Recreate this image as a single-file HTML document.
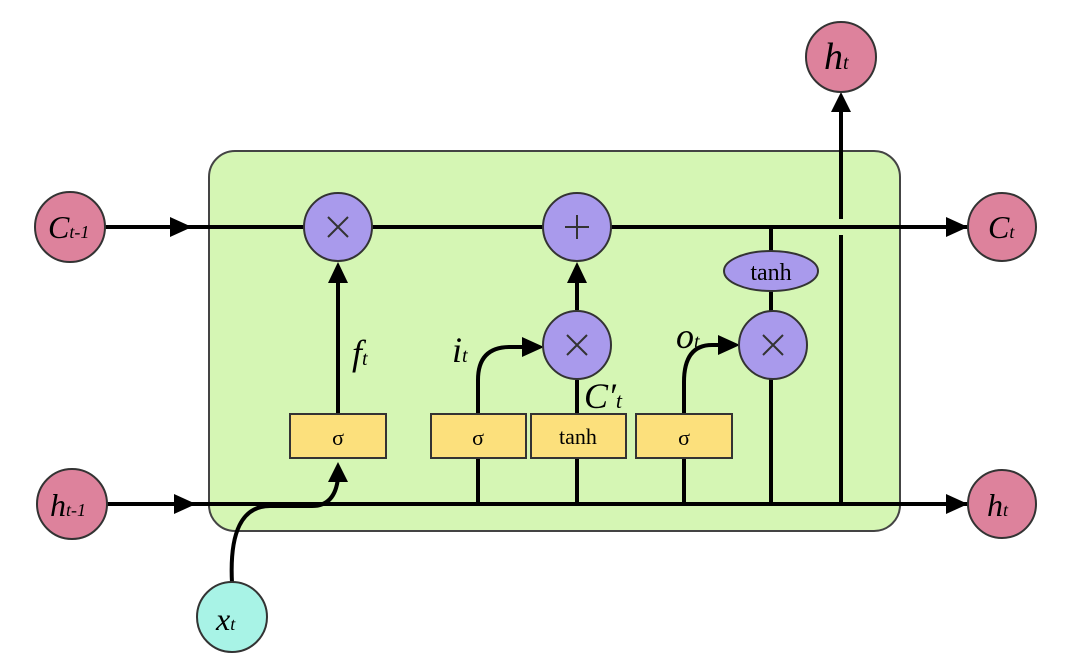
<!DOCTYPE html>
<html><head><meta charset="utf-8"><style>html,body{margin:0;padding:0;background:#fff}svg{display:block}</style></head>
<body>
<svg width="1080" height="669" viewBox="0 0 1080 669" xmlns="http://www.w3.org/2000/svg" font-family="'Liberation Serif', serif">
<defs>
<marker id="a" markerWidth="10" markerHeight="10" refX="8" refY="5" orient="auto" markerUnits="userSpaceOnUse">
<path d="M0,0 L10,5 L0,10 z" fill="#000" transform="scale(2.2) translate(-4.5,-2.7)"/>
</marker>
</defs>
<style>.ln{stroke:#000;stroke-width:4;fill:none}.c{stroke:#333;stroke-width:2}</style>
<rect x="209" y="151" width="691" height="380" rx="26" fill="#d5f6b4" stroke="#444" stroke-width="2"/>
<!-- top line -->
<line class="ln" x1="105" y1="227" x2="968" y2="227"/>
<path d="M170,217 L192,227 L170,237z"/><path d="M946,217 L968,227 L946,237z"/>
<!-- bottom line -->
<line class="ln" x1="105" y1="504" x2="968" y2="504"/>
<path d="M174,494 L196,504 L174,514z"/><path d="M946,494 L968,504 L946,514z"/>
<!-- vertical ht -->
<line class="ln" x1="841" y1="504" x2="841" y2="235"/>
<line class="ln" x1="841" y1="219" x2="841" y2="110"/>
<path d="M831,112 L841,92 L851,112z"/>
<!-- f_t -->
<line class="ln" x1="338" y1="414" x2="338" y2="280"/>
<path d="M328,283 L338,262 L348,283z"/>
<!-- + from mid × -->
<line class="ln" x1="577" y1="310" x2="577" y2="280"/>
<path d="M567,283 L577,262 L587,283z"/>
<!-- verticals from bottom -->
<line class="ln" x1="478" y1="504" x2="478" y2="458"/>
<line class="ln" x1="577" y1="504" x2="577" y2="380"/>
<line class="ln" x1="684" y1="504" x2="684" y2="458"/>
<line class="ln" x1="771" y1="504" x2="771" y2="227"/>
<!-- curves -->
<path class="ln" d="M478,414 L478,380 Q478,347 510,347 L528,347"/>
<path d="M522,337 L544,347 L522,357z"/>
<path class="ln" d="M684,414 L684,382 Q684,345 712,345 L724,345"/>
<path d="M718,335 L740,345 L718,355z"/>
<path class="ln" d="M232,583 Q228,506 270,506 L312,506 Q335,506 338,478"/>
<path d="M328,482 L338,462 L348,482z"/>
<!-- gates -->
<g class="c" fill="#a99aec">
<circle cx="338" cy="227" r="34"/><circle cx="577" cy="227" r="34"/>
<circle cx="577" cy="345" r="34"/><circle cx="773" cy="345" r="34"/>
<ellipse cx="771" cy="271" rx="47" ry="20"/>
</g>
<g stroke="#333" stroke-width="2">
<path d="M328,217 l20,20 M348,217 l-20,20"/><path d="M567,335 l20,20 M587,335 l-20,20"/><path d="M763,335 l20,20 M783,335 l-20,20"/>
<path d="M565,227 h24 M577,215 v24"/>
</g>
<text x="771" y="280" font-size="24" text-anchor="middle">tanh</text>
<!-- yellow boxes -->
<g class="c" fill="#fce07c">
<rect x="290" y="414" width="96" height="44"/><rect x="431" y="414" width="95" height="44"/>
<rect x="531" y="414" width="95" height="44"/><rect x="636" y="414" width="96" height="44"/>
</g>
<g font-size="22" text-anchor="middle">
<text x="338" y="445">σ</text><text x="478" y="445">σ</text><text x="578" y="444">tanh</text><text x="684" y="445">σ</text>
</g>
<!-- io circles -->
<g class="c" fill="#dd829c">
<circle cx="70" cy="227" r="35"/><circle cx="1002" cy="227" r="34"/>
<circle cx="841" cy="57" r="35"/><circle cx="72" cy="504" r="35"/><circle cx="1002" cy="504" r="34"/>
</g>
<circle class="c" cx="232" cy="617" r="35" fill="#a8f3e6"/>
<g font-style="italic" font-size="32">
<text x="48" y="238">C<tspan font-size="18">t-1</tspan></text>
<text x="988" y="238">C<tspan font-size="18">t</tspan></text>
<text x="824" y="69" font-size="38">h<tspan font-size="20">t</tspan></text>
<text x="50" y="516">h<tspan font-size="18">t-1</tspan></text>
<text x="987" y="516">h<tspan font-size="18">t</tspan></text>
<text x="216" y="630">x<tspan font-size="18">t</tspan></text>
<text x="352" y="365" font-size="36">f<tspan font-size="20">t</tspan></text>
<text x="452" y="362" font-size="36">i<tspan font-size="20">t</tspan></text>
<text x="676" y="348" font-size="36">o<tspan font-size="20">t</tspan></text>
<text x="584" y="408" font-size="36">C′<tspan font-size="22">t</tspan></text>
</g>
</svg>
</body></html>
